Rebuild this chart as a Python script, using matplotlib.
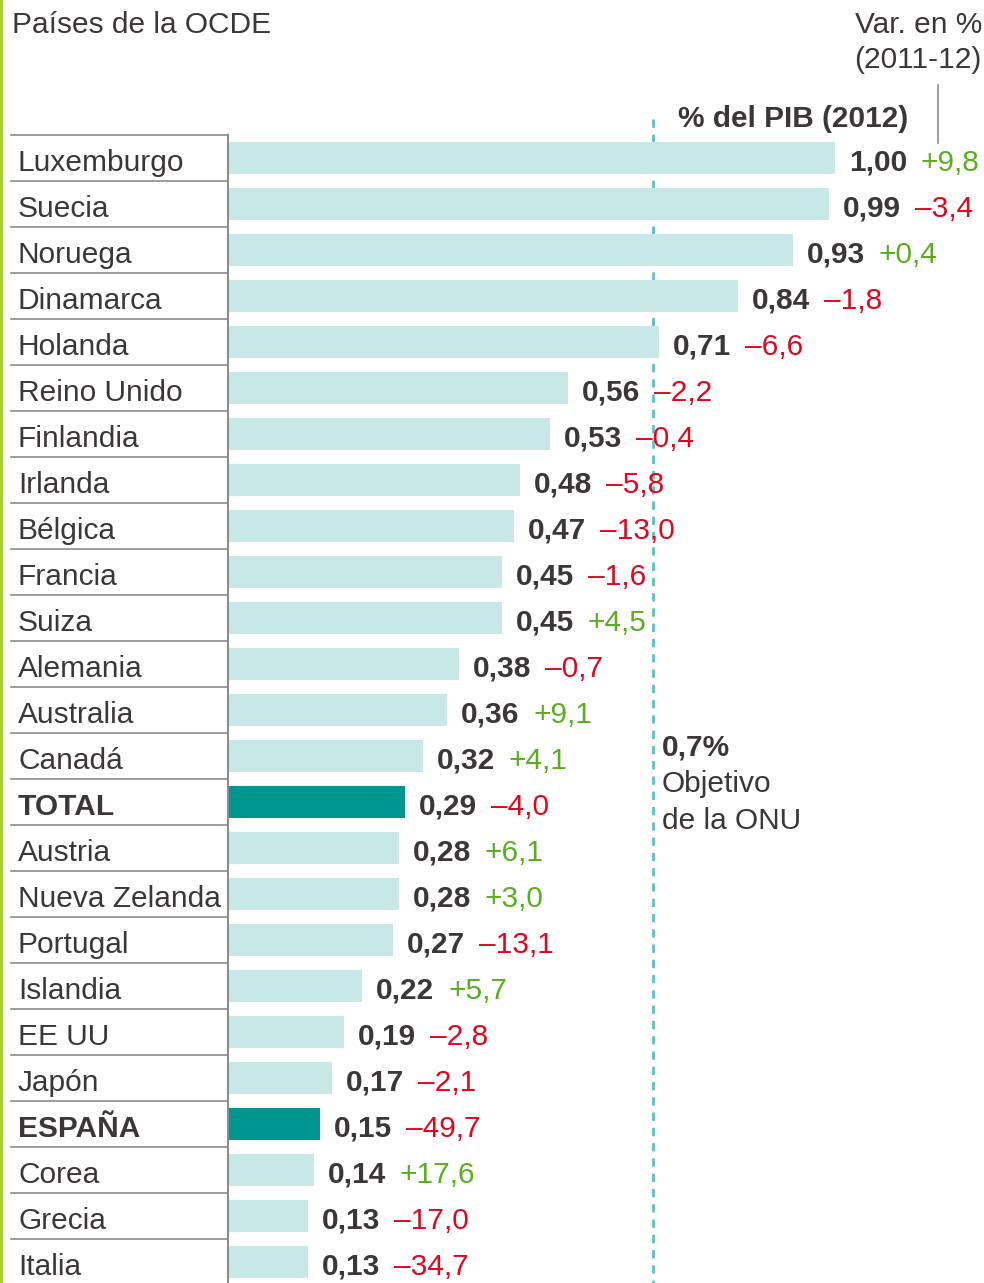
import matplotlib.pyplot as plt
from matplotlib.transforms import blended_transform_factory

countries = ["Luxemburgo", "Suecia", "Noruega", "Dinamarca", "Holanda",
             "Reino Unido", "Finlandia", "Irlanda", "Bélgica", "Francia",
             "Suiza", "Alemania", "Australia", "Canadá", "TOTAL", "Austria",
             "Nueva Zelanda", "Portugal", "Islandia", "EE UU", "Japón",
             "ESPAÑA", "Corea", "Grecia", "Italia"]
pib_2012 = [1.00, 0.99, 0.93, 0.84, 0.71, 0.56, 0.53, 0.48, 0.47, 0.45,
            0.45, 0.38, 0.36, 0.32, 0.29, 0.28, 0.28, 0.27, 0.22, 0.19,
            0.17, 0.15, 0.14, 0.13, 0.13]
var_pct = [9.8, -3.4, 0.4, -1.8, -6.6, -2.2, -0.4, -5.8, -13.0, -1.6,
           4.5, -0.7, 9.1, 4.1, -4.0, 6.1, 3.0, -13.1, 5.7, -2.8,
           -2.1, -49.7, 17.6, -17.0, -34.7]
highlight = ["TOTAL", "ESPAÑA"]
onu_target = 0.7

W, H = 984, 1283
FS = 21.5
DARK = "#3b3739"
LIGHT_BAR = "#c8e8e7"
DARK_BAR = "#00968f"
GREEN = "#5aae1e"
RED = "#e3051b"
GRID = "#8c8c8c"

plt.rcParams["font.family"] = ["Liberation Sans", "DejaVu Sans"]

fig = plt.figure(figsize=(W / 100, H / 100), dpi=100)

# axes: x in % of GDP starting at the table edge, y in row units
x0_px, px_per_unit = 229, 606
row0_px, row_px = 158, 46
ax = fig.add_axes([x0_px / W, 0, 1 - x0_px / W, 1])
ax.set_xlim(0, (W - x0_px) / px_per_unit)
ax.set_ylim((H - row0_px) / row_px, -row0_px / row_px)
ax.axis("off")


def fx(px):
    return px / W


def fy(py):
    return 1 - py / H


base_off = 12.5 / row_px  # baseline sits a bit below the row centre

rows = list(range(len(countries)))
colors = [DARK_BAR if c in highlight else LIGHT_BAR for c in countries]
ax.barh(rows, pib_2012, height=0.7, color=colors, zorder=2)

# dashed line for the UN target
ax.plot([onu_target, onu_target], [-0.85, len(countries) + 1],
        color="#5cc3be", lw=2, ls=(0, (3, 2.5)), clip_on=False, zorder=1)

for i, (val, chg) in enumerate(zip(pib_2012, var_pct)):
    ax.annotate(f"{val:.2f}".replace(".", ","), (val, i + base_off),
                xytext=(14 * 0.72, 0), textcoords="offset points",
                ha="left", va="baseline", fontsize=FS, fontweight="bold",
                color=DARK, annotation_clip=False)
    sign = "+" if chg >= 0 else "–"
    ax.annotate(sign + f"{abs(chg):.1f}".replace(".", ","), (val, i + base_off),
                xytext=(86 * 0.72, 0), textcoords="offset points",
                ha="left", va="baseline", fontsize=FS,
                color=GREEN if chg >= 0 else RED, annotation_clip=False)

# country table on the left
trans = blended_transform_factory(fig.transFigure, ax.transData)
for i, name in enumerate(countries):
    ax.text(fx(18), i + base_off, name, transform=trans, ha="left",
            va="baseline", fontsize=FS, color=DARK, clip_on=False,
            fontweight="bold" if name in highlight else "normal")
    ax.plot([fx(11), fx(228)], [i - 0.5, i - 0.5], transform=trans,
            color=GRID, lw=1.2, clip_on=False, zorder=3)
ax.plot([fx(228), fx(228)], [-0.5, len(countries) + 1], transform=trans,
        color=GRID, lw=1.5, clip_on=False, zorder=3)

# headers
fig.text(fx(12), fy(33), "Países de la OCDE", ha="left", va="baseline",
         fontsize=FS, color=DARK)
fig.text(fx(982), fy(33), "Var. en %", ha="right", va="baseline",
         fontsize=FS, color=DARK)
fig.text(fx(982), fy(68), "(2011-12)", ha="right", va="baseline",
         fontsize=FS, color=DARK)
fig.text(fx(908), fy(127), "% del PIB (2012)", ha="right", va="baseline",
         fontsize=FS, fontweight="bold", color=DARK)
fig.add_artist(plt.Line2D([fx(938), fx(938)], [fy(85), fy(143)],
                          transform=fig.transFigure, color=GRID, lw=1.2))

# UN target note
fig.text(fx(662), fy(755), "0,7%", ha="left", va="baseline", fontsize=FS,
         fontweight="bold", color=DARK)
fig.text(fx(662), fy(792), "Objetivo", ha="left", va="baseline", fontsize=FS,
         color=DARK)
fig.text(fx(662), fy(829), "de la ONU", ha="left", va="baseline", fontsize=FS,
         color=DARK)

# green rule at left edge
fig.add_artist(plt.Rectangle((0, 0), fx(3), 1, transform=fig.transFigure,
                             color="#a8d22d", lw=0))

fig.savefig("out.png", dpi=100)
